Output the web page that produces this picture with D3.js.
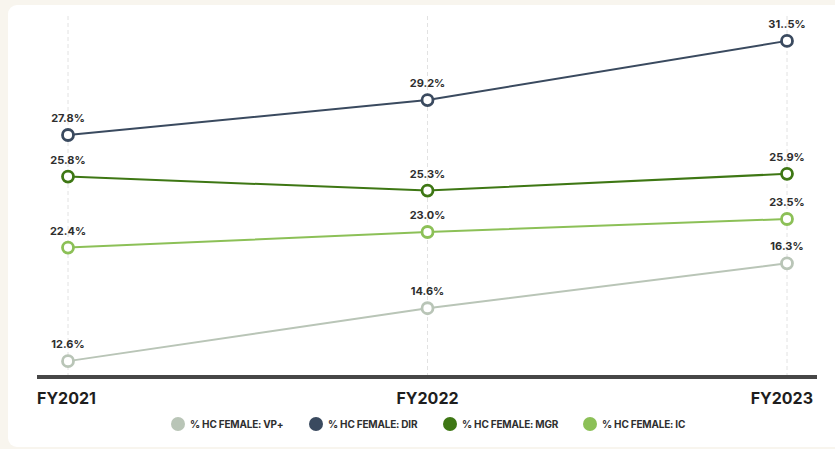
<!DOCTYPE html>
<html>
<head>
<meta charset="utf-8">
<script src="https://cdn.jsdelivr.net/npm/d3@7"></script>
<style>
  body { margin: 0; background: #f8f5ee; font-family: Inter, "Liberation Sans", sans-serif; }
  svg { display: block; }
</style>
</head>
<body>
<div id="chart"></div>
<script>
// data
var years = ["FY2021", "FY2022", "FY2023"];
var seriesNames = ["% HC FEMALE: VP+", "% HC FEMALE: DIR", "% HC FEMALE: MGR", "% HC FEMALE: IC"];
var vpValues  = [12.6, 14.6, 16.3];
var dirValues = [27.8, 29.2, 31.5];
var mgrValues = [25.8, 25.3, 25.9];
var icValues  = [22.4, 23.0, 23.5];
// label as printed on the original (typo kept)
var labelOverride = { "1-2": "31..5%" };

var colors = ["#b9c5b7", "#3a4a5f", "#3e7714", "#8cc057"];

var width = 835, height = 449;

var svg = d3.select("#chart").append("svg")
    .attr("width", width).attr("height", height);

// white card
svg.append("rect")
    .attr("x", 8).attr("y", 5)
    .attr("width", width + 20).attr("height", 442)
    .attr("rx", 9)
    .attr("fill", "#fff");

var x = d3.scalePoint().domain(years).range([68, 787]);

// broken (piecewise) y scale - the original stacks the bands closer together
var y = d3.scaleLinear()
    .domain([12, 16.5, 22, 23.5, 25, 26, 28, 32])
    .range([377, 258, 258, 219, 199, 171, 131, 28]);

// vertical dashed guides
svg.selectAll(".guide").data(years).enter().append("line")
    .attr("class", "guide")
    .attr("x1", function(d){ return x(d); })
    .attr("x2", function(d){ return x(d); })
    .attr("y1", 16).attr("y2", 377)
    .attr("stroke", "#e2e2e2")
    .attr("stroke-width", 1)
    .attr("stroke-dasharray", "4,3");

// bottom axis line
svg.append("line")
    .attr("x1", 37).attr("x2", 817)
    .attr("y1", 377).attr("y2", 377)
    .attr("stroke", "#474747")
    .attr("stroke-width", 4);

svg.selectAll(".year").data(years).enter().append("text")
    .attr("class", "year")
    .attr("x", function(d, i){ return i === 0 ? 37 : (i === years.length - 1 ? 813 : x(d)); })
    .attr("y", 404)
    .attr("text-anchor", function(d, i){ return i === 0 ? "start" : (i === years.length - 1 ? "end" : "middle"); })
    .attr("font-size", 16)
    .attr("font-weight", 700)
    .attr("fill", "#1e1e1e")
    .text(function(d){ return d; });

var allSeries = [vpValues, dirValues, mgrValues, icValues];

var line = d3.line()
    .x(function(d, i){ return x(years[i]); })
    .y(function(d){ return y(d); });

allSeries.forEach(function(vals, s) {
    var g = svg.append("g");
    g.append("path")
        .datum(vals)
        .attr("d", line)
        .attr("fill", "none")
        .attr("stroke", colors[s])
        .attr("stroke-width", 2);

    g.selectAll("circle").data(vals).enter().append("circle")
        .attr("cx", function(d, i){ return x(years[i]); })
        .attr("cy", function(d){ return y(d); })
        .attr("r", 5.5)
        .attr("fill", "#fff")
        .attr("stroke", colors[s])
        .attr("stroke-width", 2.8);

    g.selectAll("text").data(vals).enter().append("text")
        .attr("x", function(d, i){ return x(years[i]); })
        .attr("y", function(d){ return y(d) - 13; })
        .attr("text-anchor", "middle")
        .attr("font-size", 11)
        .attr("font-weight", 700)
        .attr("fill", "#2e2e2e")
        .text(function(d, i){
            return labelOverride[s + "-" + i] || d.toFixed(1) + "%";
        });
});

// legend
var legendX = [178, 316, 450, 590];
var legend = svg.selectAll(".leg").data(seriesNames).enter().append("g")
    .attr("class", "leg")
    .attr("transform", function(d, i){ return "translate(" + legendX[i] + ",424)"; });

legend.append("circle")
    .attr("r", 7)
    .attr("fill", function(d, i){ return colors[i]; });

legend.append("text")
    .attr("x", 12)
    .attr("y", 3.5)
    .attr("font-size", 10)
    .attr("font-weight", 700)
    .attr("letter-spacing", -0.2)
    .attr("fill", "#2e2e2e")
    .text(function(d){ return d; });
</script>
</body>
</html>
